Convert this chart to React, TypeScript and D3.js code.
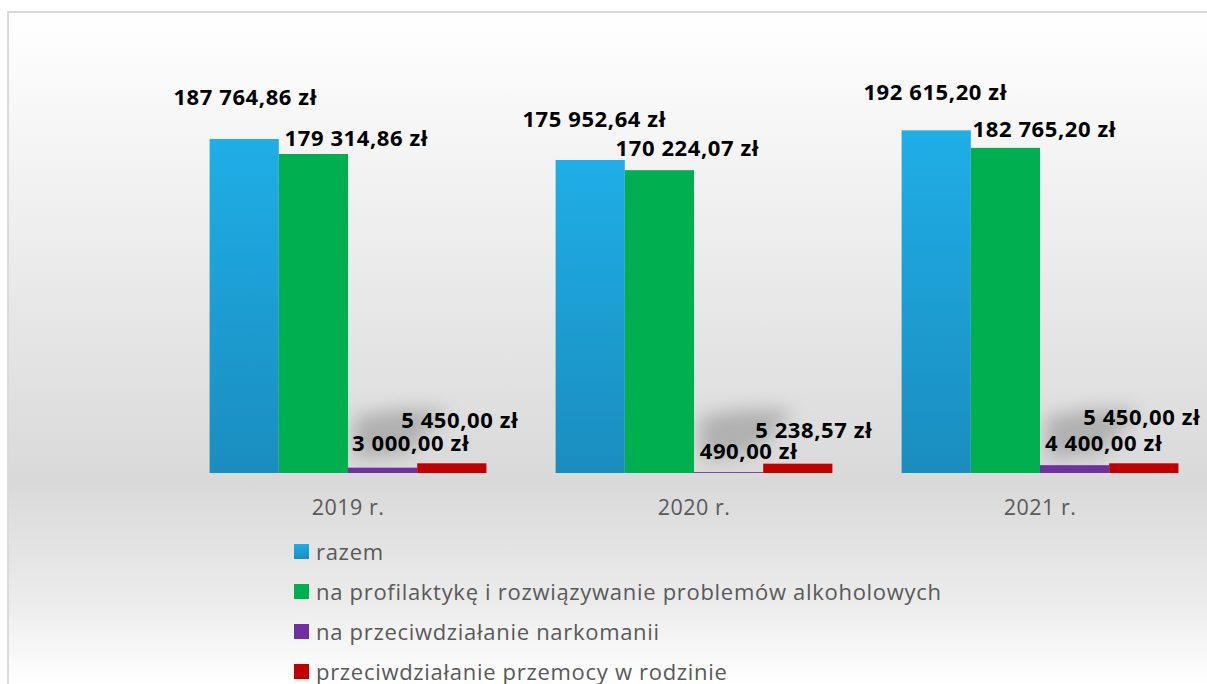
import React from "react";
import * as d3 from "d3";

const categories = ["2019 r.", "2020 r.", "2021 r."];
const seriesNames = [
  "razem",
  "na profilaktykę i rozwiązywanie problemów alkoholowych",
  "na przeciwdziałanie narkomanii",
  "przeciwdziałanie przemocy w rodzinie",
];
const razem = [187764.86, 175952.64, 192615.2];
const alkohol = [179314.86, 170224.07, 182765.2];
const narkomania = [3000.0, 490.0, 4400.0];
const przemoc = [5450.0, 5238.57, 5450.0];
const yMax = 200000;

const seriesValues = [razem, alkohol, narkomania, przemoc];
const seriesColors = ["url(#blueGrad)", "#00B050", "#7030A0", "#C00000"];

// label offsets [dx from bar center, dy from bar top] per series per category
const labelOffsets: number[][][] = [
  [[1, -34], [4, -33], [-1, -30]],
  [[43, -8], [28, -14], [39, -11]],
  [[28, -17], [20, -13], [29, -14]],
  [[8, -35], [16, -26], [-2, -38]],
];

const fmt = (v: number) => {
  const [i, d] = v.toFixed(2).split(".");
  const grouped = i.replace(/\B(?=(\d{3})+(?!\d))/g, " ");
  return `${grouped},${d} zł`;
};

const W = 1207;
const H = 684;
const FONT = "'Open Sans', Lato, sans-serif";

export default function App() {
  const x0 = d3.scaleBand().domain(categories).range([175, 1213]).paddingInner(0.2).paddingOuter(0.1);
  const x1 = d3.scaleBand().domain(d3.range(4).map(String)).range([0, x0.bandwidth()]);
  const y = d3.scaleLinear().domain([0, yMax]).range([473, 117.2]);

  return (
    <svg width={W} height={H} style={{ position: "absolute", left: 0, top: 0, display: "block" }}>
      <defs>
        <linearGradient id="bg" gradientUnits="userSpaceOnUse" x1={0} y1={11} x2={0} y2={684}>
          <stop offset="0" stopColor="#ffffff" />
          <stop offset="0.3" stopColor="#efefef" />
          <stop offset="0.7" stopColor="#d9d9d9" />
          <stop offset="0.88" stopColor="#ececec" />
          <stop offset="1" stopColor="#ffffff" />
        </linearGradient>
        <linearGradient id="blueGrad" x1="0" y1="0" x2="0" y2="1">
          <stop offset="0" stopColor="#1FAEE6" />
          <stop offset="1" stopColor="#1A8DBF" />
        </linearGradient>
        <filter id="blur" x="-50%" y="-50%" width="200%" height="200%">
          <feGaussianBlur stdDeviation="9" />
        </filter>
      </defs>
      <rect x={0} y={0} width={W} height={H} fill="#ffffff" />
      <rect x={8} y={12} width={W + 20} height={H + 20} fill="url(#bg)" stroke="#d9d9d9" strokeWidth={2} />

      {/* soft shadows behind small labels */}
      {categories.map((c) => {
        const sx = (x0(c) as number) + (x1("2") as number);
        return (
          <path
            key={"sh" + c}
            d={`M${sx + 8},${y(0) - 14} L${sx + 5},${y(0) - 55} Q${sx + 50},${y(0) - 68} ${sx + 100},${y(0) - 62} L${sx + 60},${y(0) - 20} Z`}
            fill="#8c8c8c"
            opacity={0.55}
            filter="url(#blur)"
          />
        );
      })}

      {seriesValues.map((vals, si) =>
        categories.map((c, ci) => {
          const bx = (x0(c) as number) + (x1(String(si)) as number);
          const v = vals[ci];
          return (
            <rect
              key={`b${si}-${ci}`}
              x={bx}
              y={y(v)}
              width={x1.bandwidth()}
              height={y(0) - y(v)}
              fill={seriesColors[si]}
            />
          );
        })
      )}

      {seriesValues.map((vals, si) =>
        categories.map((c, ci) => {
          const bx = (x0(c) as number) + (x1(String(si)) as number) + x1.bandwidth() / 2;
          const v = vals[ci];
          const [dx, dy] = labelOffsets[si][ci];
          return (
            <text
              key={`l${si}-${ci}`}
              x={bx + dx}
              y={y(v) + dy}
              textAnchor="middle"
              fontFamily={FONT}
              fontWeight={700}
              fontSize={22}
              letterSpacing={0.6}
              fill="#000"
            >
              {fmt(v)}
            </text>
          );
        })
      )}

      {categories.map((c) => (
        <text
          key={"c" + c}
          x={(x0(c) as number) + x0.bandwidth() / 2}
          y={515}
          textAnchor="middle"
          fontFamily={FONT}
          fontSize={21.5}
          letterSpacing={0.5}
          fill="#595959"
        >
          {c}
        </text>
      ))}

      {seriesNames.map((n, i) => (
        <g key={"lg" + i} transform={`translate(294, ${560 + i * 40})`}>
          <rect x={0} y={-16} width={15} height={15} fill={seriesColors[i]} />
          <text x={22} y={0} fontFamily={FONT} fontSize={22} letterSpacing={0.7} fill="#595959">
            {n}
          </text>
        </g>
      ))}
    </svg>
  );
}
